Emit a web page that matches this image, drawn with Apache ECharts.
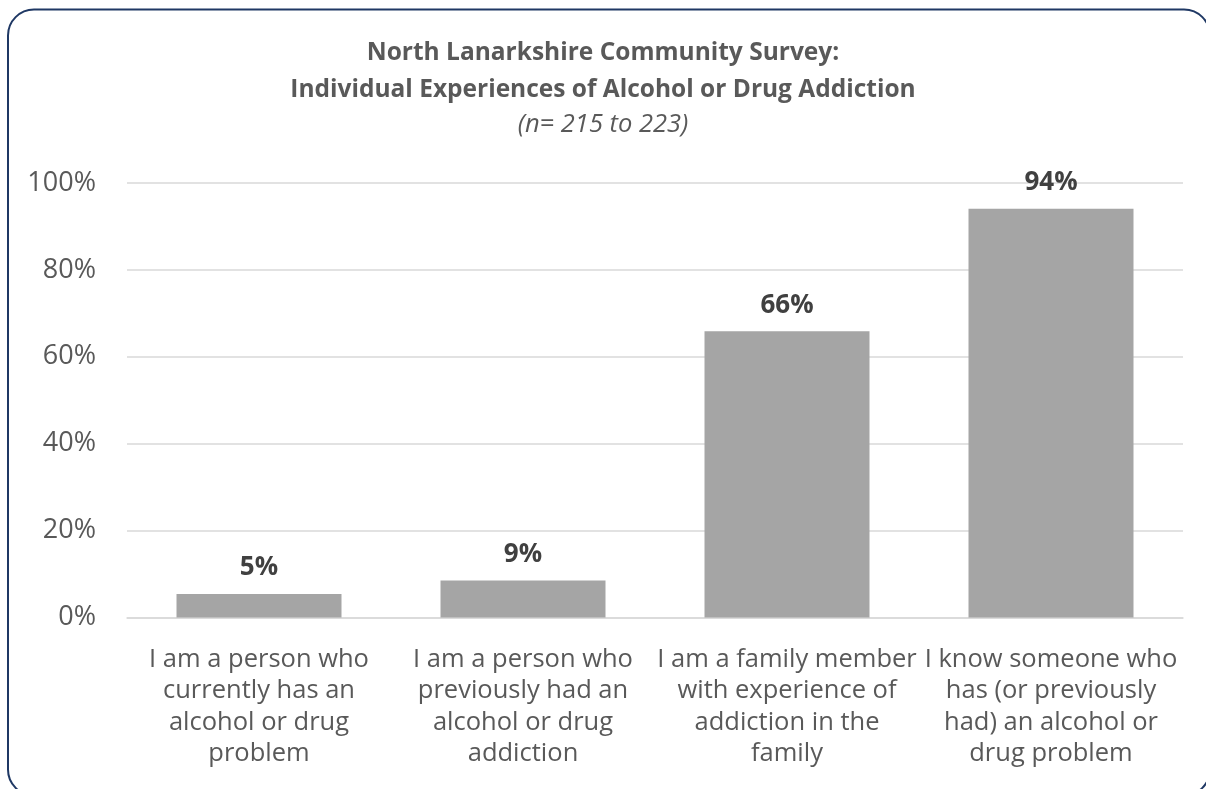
<!DOCTYPE html>
<html>
<head>
<meta charset="utf-8">
<script src="https://cdn.jsdelivr.net/npm/echarts@6/dist/echarts.min.js"></script>
<style>
  html, body { margin: 0; padding: 0; background: #fff; }
  #chart { width: 1206px; height: 789px; }
</style>
</head>
<body>
<div id="chart"></div>
<script>
// chart data
const categories = [
  "I am a person who\ncurrently has an\nalcohol or drug\nproblem",
  "I am a person who\npreviously had an\nalcohol or drug\naddiction",
  "I am a family member\nwith experience of\naddiction in the\nfamily",
  "I know someone who\nhas (or previously\nhad) an alcohol or\ndrug problem"
];
const values = [5.4, 8.5, 65.9, 94.1];
const yTicks = [0, 20, 40, 60, 80, 100];

const titleText = "North Lanarkshire Community Survey:\nIndividual Experiences of Alcohol or Drug Addiction";
const subText = "(n= 215 to 223)";

const font = "'Open Sans', sans-serif";

const chart = echarts.init(document.getElementById("chart"));

const option = {
  backgroundColor: "#ffffff",
  animation: false,
  title: {
    text: titleText,
    subtext: subText,
    left: "center",
    top: 29.5,
    itemGap: 3,
    textStyle: {
      fontFamily: font,
      fontSize: 24.5,
      fontWeight: "bold",
      color: "#595959",
      lineHeight: 37
    },
    subtextStyle: {
      fontFamily: font,
      fontSize: 25.5,
      fontStyle: "italic",
      color: "#595959"
    }
  },
  grid: {
    left: 127,
    right: 23,
    top: 183,
    bottom: 171.5
  },
  xAxis: {
    type: "category",
    data: categories,
    axisLine: { show: true, lineStyle: { color: "#d9d9d9", width: 1.5 } },
    axisTick: { show: false },
    axisLabel: {
      interval: 0,
      margin: 26,
      fontFamily: font,
      fontSize: 25.5,
      lineHeight: 31.5,
      color: "#595959"
    }
  },
  yAxis: {
    type: "value",
    min: yTicks[0],
    max: yTicks[yTicks.length - 1],
    interval: 20,
    axisLine: { show: false },
    axisTick: { show: false },
    splitLine: { lineStyle: { color: "#d9d9d9", width: 1.5 } },
    axisLabel: {
      margin: 31,
      fontFamily: font,
      fontSize: 27,
      color: "#595959",
      formatter: "{value}%"
    }
  },
  series: [
    {
      type: "bar",
      data: values,
      barWidth: "62.5%",
      itemStyle: { color: "#a5a5a5" },
      label: {
        show: true,
        position: "top",
        distance: 13,
        fontFamily: font,
        fontSize: 26,
        fontWeight: "bold",
        color: "#404040",
        formatter: (p) => Math.round(p.value) + "%"
      }
    }
  ],
  graphic: [
    {
      type: "rect",
      silent: true,
      shape: { x: 8, y: 9.5, width: 1202, height: 786, r: 26 },
      style: { fill: "none", stroke: "#1f3864", lineWidth: 2 }
    }
  ]
};

chart.setOption(option);
window.addEventListener("resize", () => chart.resize());
</script>
</body>
</html>
